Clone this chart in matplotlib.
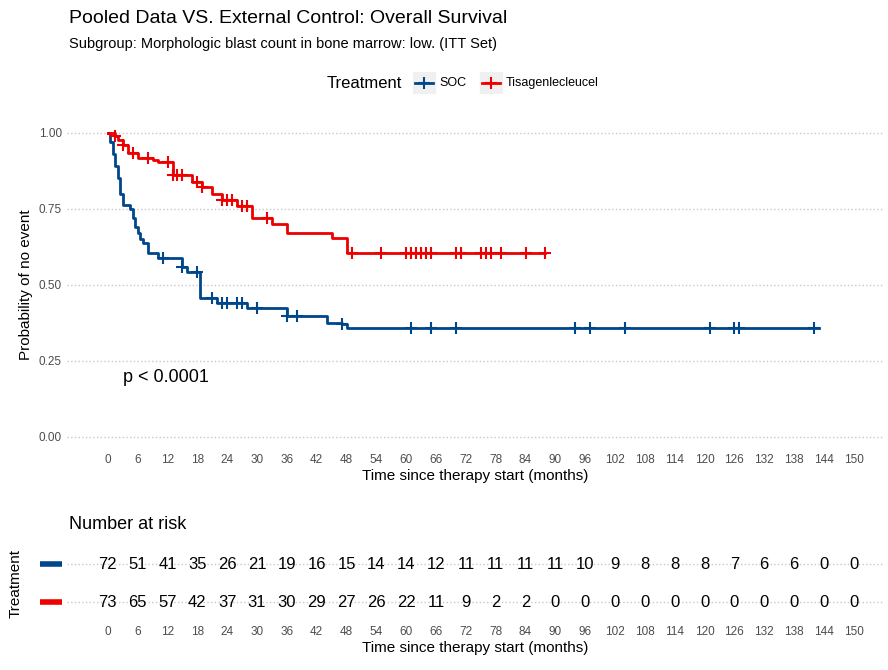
import matplotlib.pyplot as plt
import numpy as np

plt.rcParams['font.family'] = ['Liberation Sans', 'DejaVu Sans']

# step curves (time in months, survival after step)
soc_t = [0, 0.5, 1, 1.5, 2, 2.5, 3, 4.5, 5, 5.5, 6, 6.5, 7, 8, 10, 15, 16, 18.5, 22, 28, 36, 44, 47, 48, 143]
soc_s = [1.0, 0.97, 0.93, 0.89, 0.85, 0.80, 0.763, 0.75, 0.72, 0.69, 0.67, 0.65, 0.638, 0.605, 0.589, 0.56, 0.543, 0.457, 0.441, 0.424, 0.398, 0.375, 0.37, 0.359, 0.359]
tis_t = [0, 1.5, 2, 3, 4, 6, 9, 10, 13, 17, 19, 21, 23, 26, 29, 33, 36, 45, 48, 88]
tis_s = [1.0, 0.99, 0.977, 0.96, 0.934, 0.918, 0.91, 0.905, 0.862, 0.839, 0.82, 0.80, 0.78, 0.76, 0.72, 0.70, 0.671, 0.654, 0.605, 0.605]
soc_cens = [11, 15, 18, 21, 23, 24, 26, 27, 30, 36, 38, 47, 61, 65, 70, 94, 97, 104, 121, 126, 127, 142]
tis_cens = [1.5, 3, 5, 8, 12, 13, 14, 15, 18, 19, 23, 24, 25, 27, 28, 32, 49, 55, 60, 61, 62, 63, 64, 65, 70, 71, 75, 76, 77, 79, 84, 88]

times = list(range(0, 151, 6))
risk_soc = [72, 51, 41, 35, 26, 21, 19, 16, 15, 14, 14, 12, 11, 11, 11, 11, 10, 9, 8, 8, 8, 7, 6, 6, 0, 0]
risk_tis = [73, 65, 57, 42, 37, 31, 30, 29, 27, 26, 22, 11, 9, 2, 2, 0, 0, 0, 0, 0, 0, 0, 0, 0, 0, 0]

BLUE = '#00468B'
RED = '#ED0000'
GREY = '#4d4d4d'
XLIM = (-8.3, 156)


def surv_at(t, ts, ss):
    idx = np.searchsorted(ts, t, side='right') - 1
    return np.array(ss)[idx]


fig = plt.figure(figsize=(8.88, 6.70), dpi=100)
ax = fig.add_axes([0.075, 0.33, 0.92, 0.49])
for ts, ss, cs, col in [(soc_t, soc_s, soc_cens, BLUE), (tis_t, tis_s, tis_cens, RED)]:
    ax.step(ts, ss, where='post', color=col, lw=2)
    ax.plot(cs, surv_at(cs, ts, ss), '+', color=col, ms=8, mew=1.5)
ax.set_xlim(*XLIM)
ax.set_ylim(-0.04, 1.04)
ax.set_xticks(times)
ax.set_yticks([0, 0.25, 0.5, 0.75, 1.0])
ax.set_yticklabels(['0.00', '0.25', '0.50', '0.75', '1.00'])
ax.grid(axis='y', ls=':', color='#c8c8c8', lw=1)
for sp in ax.spines.values():
    sp.set_visible(False)
ax.tick_params(length=0, colors=GREY, labelsize=8.5)
ax.set_xlabel('Time since therapy start (months)', fontsize=11, labelpad=2)
ax.set_ylabel('Probability of no event', fontsize=11)
ax.text(3, 0.18, 'p < 0.0001', fontsize=13)

fig.text(0.078, 0.965, 'Pooled Data VS. External Control: Overall Survival', fontsize=14)
fig.text(0.078, 0.928, 'Subgroup: Morphologic blast count in bone marrow: low. (ITT Set)', fontsize=10.5)
fig.text(0.368, 0.876, 'Treatment', fontsize=12, va='center')
lax = fig.add_axes([0.465, 0.86, 0.25, 0.032])
lax.set_xlim(0, 1)
lax.set_ylim(0, 1)
lax.axis('off')
for x0, col, lab in [(0.0, BLUE, 'SOC'), (0.3, RED, 'Tisagenlecleucel')]:
    lax.add_patch(plt.Rectangle((x0, 0), 0.1, 1, color='#f0f0f0'))
    lax.plot([x0 + 0.01, x0 + 0.09], [0.5, 0.5], color=col, lw=2)
    lax.plot([x0 + 0.05], [0.5], '+', color=col, ms=8, mew=1.5)
    lax.text(x0 + 0.12, 0.5, lab, va='center', fontsize=9)

rx = fig.add_axes([0.075, 0.073, 0.92, 0.113])
for r, y in [(risk_soc, 1), (risk_tis, 0)]:
    for t, v in zip(times, r):
        rx.text(t, y, str(v), ha='center', va='center', fontsize=12)
rx.set_xlim(*XLIM)
rx.set_ylim(-0.5, 1.5)
rx.set_xticks(times)
rx.set_yticks([0, 1])
rx.set_yticklabels(['', ''])
for y, col in [(1, BLUE), (0, RED)]:
    rx.plot([-13.7, -9.3], [y, y], color=col, lw=4, clip_on=False, solid_capstyle='butt')
rx.grid(axis='y', ls=':', color='#c8c8c8', lw=1)
for sp in rx.spines.values():
    sp.set_visible(False)
rx.tick_params(length=0, labelsize=8.5, labelcolor=GREY)
rx.set_xlabel('Time since therapy start (months)', fontsize=11, labelpad=2)
rx.set_ylabel('Treatment', fontsize=11, labelpad=28)
fig.text(0.078, 0.21, 'Number at risk', fontsize=13)

fig.savefig('out.png', dpi=100)
